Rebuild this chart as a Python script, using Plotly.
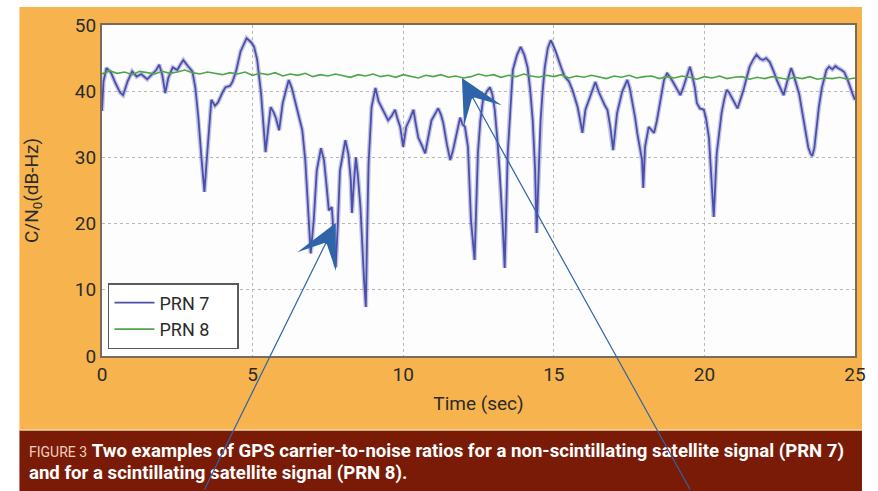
import plotly.graph_objects as go

# ---------------- data ----------------
prn7_t = [0.00, 0.05, 0.15, 0.30, 0.45, 0.60, 0.70, 0.85, 1.00, 1.15, 1.30, 1.50, 1.65, 1.80, 1.90,
          2.00, 2.10, 2.20, 2.35, 2.50, 2.60, 2.70, 2.85, 3.00, 3.10, 3.20, 3.30, 3.40, 3.50, 3.63,
          3.75, 3.85, 4.00, 4.10, 4.25, 4.33, 4.45, 4.60, 4.80, 4.95, 5.05, 5.15, 5.28, 5.36, 5.43,
          5.52, 5.60, 5.70, 5.77, 5.88, 6.00, 6.10, 6.20, 6.30, 6.43, 6.55, 6.65, 6.75, 6.80, 6.93,
          7.03, 7.13, 7.27, 7.37, 7.45, 7.53, 7.63, 7.70, 7.76, 7.83, 7.90, 8.08, 8.18, 8.26, 8.30,
          8.36, 8.43, 8.50, 8.58, 8.70, 8.76, 8.80, 8.85, 8.95, 9.08, 9.18, 9.28, 9.40, 9.50, 9.62,
          9.73, 9.80, 9.90, 10.00, 10.10, 10.22, 10.34, 10.42, 10.50, 10.62, 10.73, 10.85, 10.94, 11.05, 11.16,
          11.25, 11.33, 11.45, 11.56, 11.65, 11.72, 11.80, 11.89, 11.97, 12.05, 12.15, 12.25, 12.37, 12.48, 12.56,
          12.65, 12.78, 12.88, 12.96, 13.04, 13.12, 13.20, 13.30, 13.37, 13.47, 13.56, 13.64, 13.78, 13.90, 14.02,
          14.13, 14.22, 14.30, 14.38, 14.43, 14.50, 14.56, 14.63, 14.70, 14.80, 14.90, 15.05, 15.13, 15.25, 15.36,
          15.50, 15.62, 15.70, 15.79, 15.88, 15.95, 16.05, 16.20, 16.30, 16.38, 16.50, 16.60, 16.70, 16.78, 16.88,
          16.97, 17.03, 17.10, 17.27, 17.36, 17.44, 17.52, 17.60, 17.70, 17.77, 17.85, 17.93, 17.97, 18.03, 18.15,
          18.25, 18.33, 18.42, 18.49, 18.58, 18.66, 18.76, 18.88, 18.98, 19.10, 19.20, 19.28, 19.35, 19.45, 19.52,
          19.60, 19.68, 19.75, 19.85, 19.98, 20.05, 20.15, 20.24, 20.31, 20.41, 20.50, 20.57, 20.66, 20.74, 20.82,
          20.90, 21.00, 21.10, 21.20, 21.30, 21.40, 21.50, 21.62, 21.73, 21.85, 21.95, 22.05, 22.17, 22.30, 22.40,
          22.52, 22.63, 22.75, 22.88, 22.96, 23.05, 23.15, 23.22, 23.30, 23.38, 23.45, 23.52, 23.58, 23.65, 23.72,
          23.80, 23.90, 23.98, 24.05, 24.14, 24.25, 24.35, 24.43, 24.55, 24.64, 24.75, 24.83, 24.92, 25.00]
prn7_v = [37.0, 41.5, 43.5, 42.8, 41.2, 39.8, 39.4, 41.5, 43.0, 42.2, 42.6, 41.8, 42.5, 43.2, 44.0,
          42.5, 39.7, 42.0, 43.6, 43.2, 44.0, 44.7, 43.8, 43.0, 40.5, 36.0, 30.0, 24.8, 31.0, 38.7,
          37.8, 38.3, 39.8, 40.6, 40.8, 41.4, 43.0, 46.0, 48.0, 47.4, 46.7, 44.8, 39.7, 35.0, 30.8,
          34.5, 37.6, 36.8, 36.0, 34.1, 38.2, 40.0, 41.7, 40.5, 38.2, 36.0, 34.1, 29.5, 25.5, 15.5,
          20.5, 28.0, 31.4, 29.6, 26.0, 22.0, 22.5, 18.0, 13.4, 20.0, 28.0, 32.6, 30.5, 26.6, 21.6,
          26.0, 30.0, 27.0, 22.5, 11.5, 7.4, 18.0, 29.0, 37.6, 40.5, 38.5, 37.6, 36.5, 35.6, 36.3,
          37.2, 36.0, 34.6, 31.6, 34.6, 35.8, 37.2, 35.0, 33.0, 31.8, 30.6, 33.5, 35.6, 36.5, 37.4,
          36.5, 35.2, 32.0, 29.6, 31.0, 32.6, 34.5, 36.0, 35.0, 34.6, 31.6, 20.5, 14.5, 30.6, 35.5,
          38.7, 40.0, 40.6, 39.5, 37.2, 33.0, 28.0, 20.0, 13.3, 30.6, 38.0, 43.2, 45.5, 46.7, 45.5,
          43.6, 40.0, 35.6, 28.0, 18.6, 28.0, 35.6, 40.0, 43.6, 46.5, 47.7, 46.2, 45.0, 43.5, 42.2,
          41.5, 40.2, 39.0, 37.6, 35.5, 33.7, 37.2, 39.1, 40.5, 41.4, 39.8, 38.7, 37.8, 37.2, 34.5,
          31.1, 33.5, 36.7, 39.9, 41.0, 41.7, 40.5, 38.7, 36.0, 33.7, 31.5, 29.6, 25.4, 31.6, 34.6,
          34.0, 33.7, 35.5, 37.2, 39.5, 41.7, 42.7, 42.0, 41.2, 40.2, 39.4, 40.3, 41.2, 42.5, 43.7,
          42.3, 40.6, 38.2, 37.4, 37.2, 36.0, 33.0, 25.5, 21.0, 30.6, 34.5, 36.7, 38.8, 40.2, 39.8,
          39.1, 38.2, 37.4, 38.8, 40.2, 42.0, 43.7, 44.8, 45.5, 44.9, 44.7, 45.0, 44.4, 43.0, 41.7,
          40.5, 39.4, 41.5, 43.5, 42.5, 41.2, 39.5, 37.6, 35.5, 33.0, 31.5, 30.6, 30.2, 31.4, 34.5,
          37.6, 40.5, 42.2, 43.2, 43.7, 43.3, 43.8, 43.5, 43.2, 42.9, 41.8, 40.6, 39.6, 38.7]

# PRN 8 sampled every 0.25 s
prn8_step = 0.25
prn8_v = [42.6, 43.1, 42.7, 42.9, 42.5, 43.0, 42.8, 42.6, 43.0, 42.7,
          42.9, 43.2, 42.8, 42.6, 42.9, 42.7, 42.5, 42.8, 42.6, 42.9,
          42.4, 42.7, 42.5, 42.8, 42.3, 42.6, 42.4, 42.7, 42.2, 42.5,
          42.3, 42.6, 42.4, 42.1, 42.5, 42.3, 42.6, 42.2, 42.4, 42.1,
          42.5, 42.3, 42.0, 42.4, 42.2, 42.5, 42.1, 42.3, 42.0, 42.2,
          42.6, 42.3, 42.5, 42.1, 42.4, 42.2, 42.6, 42.3, 42.1, 42.4,
          42.2, 42.5, 42.0, 42.3, 42.1, 42.4, 42.2, 41.9, 42.3, 42.1,
          42.4, 42.0, 42.2, 42.3, 41.9, 42.2, 42.0, 42.3, 42.1, 41.8,
          42.2, 42.0, 42.3, 41.9, 42.1, 42.2, 41.8, 42.1, 41.9, 42.2,
          42.0, 41.8, 42.1, 41.9, 42.2, 41.8, 42.0, 41.9, 42.1, 41.8, 42.0]
prn8_t = [round(i * prn8_step, 2) for i in range(len(prn8_v))]

x_ticks = [0, 5, 10, 15, 20, 25]
y_ticks = [0, 10, 20, 30, 40, 50]

caption_tag = "FIGURE 3"
caption_line1 = "Two examples of GPS carrier-to-noise ratios for a non-scintillating satellite signal (PRN 7)"
caption_line2 = "and for a scintillating satellite signal (PRN 8)."

# ---------------- figure ----------------
W, H = 878, 491
L, R, T, B = 102, 19, 25, 135
pw, ph = W - L - R, H - T - B


def px(xp):
    return (xp - L) / pw


def py(yp):
    return (H - B - yp) / ph


FONT = "Roboto, Liberation Sans, sans-serif"
ORANGE = "#F7B44E"
RED = "#7A1B07"
NBSP = "\u00a0"

fig = go.Figure()
# soft halo giving the noisy thick look of the measured trace
fig.add_trace(go.Scatter(x=prn7_t, y=prn7_v, mode="lines", showlegend=False, hoverinfo="skip",
                         line=dict(color="rgba(90,94,180,0.35)", width=4.5)))
fig.add_trace(go.Scatter(x=prn7_t, y=prn7_v, mode="lines", name="PRN 7" + NBSP * 5,
                         line=dict(color="#4B4FAA", width=1.8)))
fig.add_trace(go.Scatter(x=prn8_t, y=prn8_v, mode="lines", name="PRN 8" + NBSP * 5,
                         line=dict(color="#4FA54A", width=1.6)))

shapes = [
    dict(type="rect", xref="paper", yref="paper", x0=px(19), x1=px(866), y0=py(430), y1=py(7),
         fillcolor=ORANGE, line=dict(width=0), layer="below"),
    dict(type="rect", xref="paper", yref="paper", x0=0, x1=1, y0=0, y1=1,
         fillcolor="#FDFDFD", line=dict(width=0), layer="below"),
    dict(type="rect", xref="paper", yref="paper", x0=px(19), x1=px(866), y0=py(491), y1=py(430),
         fillcolor=RED, line=dict(width=0), layer="below"),
    dict(type="line", xref="paper", yref="paper", x0=px(19), x1=px(866), y0=py(430), y1=py(430),
         line=dict(color="#F3D9A8", width=1.5), layer="below"),
]

annotations = [
    dict(xref="paper", yref="paper", x=px(27), y=py(451), xanchor="left", yanchor="middle",
         align="left", showarrow=False,
         text=("<span style='font-size:14px;color:#F2CDBE'>" + caption_tag + "</span> <b>" +
               caption_line1 + "</b>"),
         font=dict(family=FONT, size=18.6, color="#FFFFFF")),
    dict(xref="paper", yref="paper", x=px(27), y=py(473), xanchor="left", yanchor="middle",
         align="left", showarrow=False,
         text="<b>" + caption_line2 + "</b>",
         font=dict(family=FONT, size=18.6, color="#FFFFFF")),
    dict(x=7.76, y=20.1, xref="x", yref="y", ax=-132, ay=268, showarrow=True,
         arrowhead=3, arrowsize=6, arrowwidth=1.2, arrowcolor="#2E64A8", text=""),
    dict(x=11.95, y=42.0, xref="x", yref="y", ax=229, ay=413, showarrow=True,
         arrowhead=3, arrowsize=6, arrowwidth=1.2, arrowcolor="#2E64A8", text=""),
]

fig.update_layout(
    width=W, height=H,
    margin=dict(l=L, r=R, t=T, b=B, pad=0),
    paper_bgcolor="#FFFFFF",
    plot_bgcolor="#FDFDFD",
    font=dict(family=FONT, color="#2B2B2B", size=19),
    showlegend=True,
    legend=dict(x=px(108), y=py(283), xanchor="left", yanchor="top",
                bgcolor="#FFFFFF", bordercolor="#5A5A5A", borderwidth=1.5,
                font=dict(family=FONT, size=18, color="#2B2B2B"),
                itemwidth=40),
    shapes=shapes,
    annotations=annotations,
)
fig.update_xaxes(range=[0, 25], tickvals=x_ticks, ticks="", showgrid=True,
                 gridcolor="#B8B8B8", griddash="dot", gridwidth=1,
                 showline=True, linecolor="#7A6A58", linewidth=2, mirror=True,
                 zeroline=False, tickfont=dict(size=19),
                 title=dict(text="Time (sec)", font=dict(size=19), standoff=12))
fig.update_yaxes(range=[0, 50], tickvals=y_ticks, ticks="", showgrid=True,
                 gridcolor="#B8B8B8", griddash="dot", gridwidth=1,
                 showline=True, linecolor="#7A6A58", linewidth=2, mirror=True,
                 zeroline=False, tickfont=dict(size=19),
                 title=dict(text="C/N<sub>0</sub>(dB-Hz)", font=dict(size=19), standoff=31))

fig.write_html("out.html")
